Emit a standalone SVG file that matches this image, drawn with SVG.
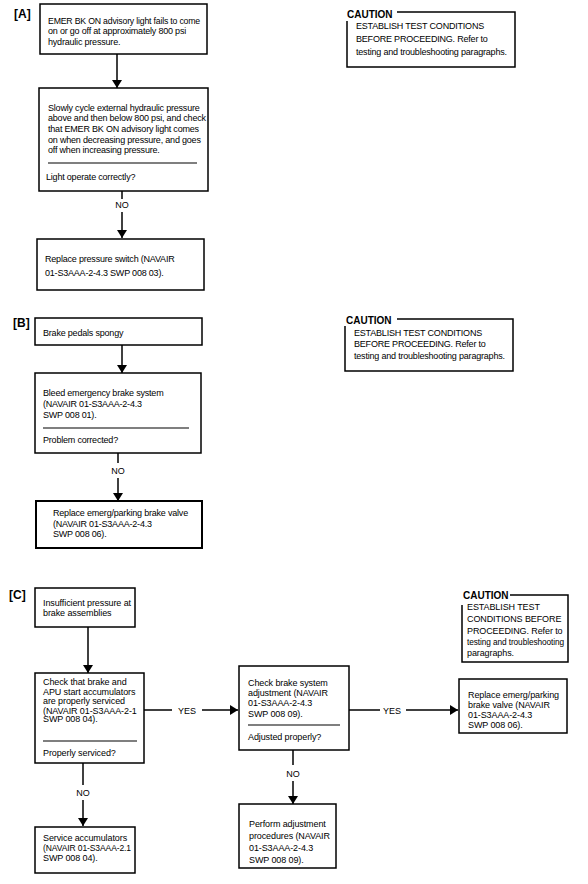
<svg xmlns="http://www.w3.org/2000/svg" width="588" height="884" viewBox="0 0 588 884">
<defs>
<style>
.box{fill:#fff;stroke:#000;stroke-width:1.5}
.sep{stroke:#000;stroke-width:1.2}
.t{font-family:"Liberation Sans",Arial,sans-serif;font-size:9px;fill:#000;letter-spacing:-0.2px}
.tc{font-family:"Liberation Sans",Arial,sans-serif;font-size:9px;fill:#000;letter-spacing:-0.1px}
.lbl{font-family:"Liberation Sans",Arial,sans-serif;font-size:9px;fill:#000;text-anchor:middle}
.sec{font-family:"Liberation Sans",Arial,sans-serif;font-size:12px;font-weight:bold;fill:#000}
.cau{font-family:"Liberation Sans",Arial,sans-serif;font-size:10px;font-weight:bold;fill:#000}
.cb{fill:none;stroke:#000;stroke-width:1.5}
.c{stroke:#000;stroke-width:1.5;fill:none}
</style>
<marker id="ah" markerUnits="userSpaceOnUse" markerWidth="8" markerHeight="10" refX="8" refY="5" orient="auto">
<path d="M0,0 L8,5 L0,10 z" fill="#000"/>
</marker>
</defs>
<rect width="588" height="884" fill="#fff"/>

<text class="sec" x="14" y="18">[A]</text>
<text class="sec" x="13" y="327">[B]</text>
<text class="sec" x="9" y="599">[C]</text>

<g id="A1">
<rect class="box" x="40" y="4" width="167" height="50"/>
<text class="t" x="48" y="24" textLength="152" lengthAdjust="spacingAndGlyphs">EMER BK ON advisory light fails to come</text>
<text class="t" x="48" y="34">on or go off at approximately 800 psi</text>
<text class="t" x="48" y="45">hydraulic pressure.</text>
</g>
<g id="A2">
<rect class="box" x="39" y="88" width="169" height="103"/>
<text class="t" x="48" y="111">Slowly cycle external hydraulic pressure</text>
<text class="t" x="48" y="121">above and then below 800 psi, and check</text>
<text class="t" x="48" y="132">that EMER BK ON  advisory light comes</text>
<text class="t" x="48" y="143">on when decreasing pressure, and goes</text>
<text class="t" x="48" y="153">off when increasing pressure.</text>
<line class="sep" x1="48" y1="163" x2="197" y2="163"/>
<text class="t" x="46" y="180">Light operate correctly?</text>
</g>
<g id="A3">
<rect class="box" x="37" y="239" width="167" height="51"/>
<text class="t" x="45" y="262">Replace pressure switch (NAVAIR</text>
<text class="t" x="45" y="276">01-S3AAA-2-4.3 SWP 008 03).</text>
</g>
<g id="cautionA">
<text class="cau" x="347" y="18">CAUTION</text>
<path class="cb" d="M397,12 H515 V67 H347 V21"/>
<text class="t" x="356" y="29">ESTABLISH TEST CONDITIONS</text>
<text class="t" x="356" y="42">BEFORE PROCEEDING. Refer to</text>
<text class="t" x="356" y="55">testing and troubleshooting paragraphs.</text>
</g>

<g id="B1">
<rect class="box" x="35" y="318" width="167" height="27"/>
<text class="t" x="43" y="336">Brake pedals spongy</text>
</g>
<g id="B2">
<rect class="box" x="35" y="373" width="166" height="80"/>
<text class="t" x="43" y="396">Bleed emergency brake system</text>
<text class="t" x="43" y="407">(NAVAIR 01-S3AAA-2-4.3</text>
<text class="t" x="43" y="418">SWP 008 01).</text>
<line class="sep" x1="43" y1="428" x2="189" y2="428"/>
<text class="t" x="43" y="443">Problem corrected?</text>
</g>
<g id="B3">
<rect class="box" x="36" y="501" width="166" height="47" style="stroke-width:2"/>
<text class="t" x="53" y="516">Replace emerg/parking brake valve</text>
<text class="t" x="53" y="527">(NAVAIR 01-S3AAA-2-4.3</text>
<text class="t" x="53" y="537">SWP 008 06).</text>
</g>
<g id="cautionB">
<text class="cau" x="346" y="324">CAUTION</text>
<path class="cb" d="M397,319 H513 V371 H345 V326"/>
<text class="t" x="354" y="336">ESTABLISH TEST CONDITIONS</text>
<text class="t" x="354" y="347">BEFORE PROCEEDING. Refer to</text>
<text class="t" x="354" y="359">testing and troubleshooting paragraphs.</text>
</g>

<g id="C1">
<rect class="box" x="35" y="588" width="100" height="39"/>
<text class="tc" x="43" y="606">Insufficient pressure at</text>
<text class="tc" x="43" y="616">brake assemblies</text>
</g>
<g id="C2">
<rect class="box" x="35" y="673" width="109" height="90"/>
<text class="tc" x="43" y="685">Check that brake and</text>
<text class="tc" x="43" y="694.5">APU start accumulators</text>
<text class="tc" x="43" y="704">are properly serviced</text>
<text class="tc" x="43" y="713.5">(NAVAIR 01-S3AAA-2-1</text>
<text class="tc" x="43" y="722">SWP 008 04).</text>
<line class="sep" x1="43" y1="741" x2="137" y2="741"/>
<text class="tc" x="43" y="756">Properly serviced?</text>
</g>
<g id="C4">
<rect class="box" x="35" y="827" width="100" height="46"/>
<text class="tc" x="43" y="841">Service accumulators</text>
<text class="tc" x="43" y="851" textLength="88" lengthAdjust="spacingAndGlyphs">(NAVAIR  01-S3AAA-2.1</text>
<text class="tc" x="43" y="861">SWP 008 04).</text>
</g>
<g id="C3">
<rect class="box" x="239" y="666" width="110" height="84"/>
<text class="tc" x="248" y="686">Check brake system</text>
<text class="tc" x="248" y="696">adjustment (NAVAIR</text>
<text class="tc" x="248" y="706">01-S3AAA-2-4.3</text>
<text class="tc" x="248" y="717">SWP 008 09).</text>
<line class="sep" x1="248" y1="725" x2="340" y2="725"/>
<text class="tc" x="248" y="740">Adjusted properly?</text>
</g>
<g id="C6">
<rect class="box" x="239" y="804" width="97" height="64"/>
<text class="tc" x="249" y="827">Perform adjustment</text>
<text class="tc" x="249" y="839">procedures (NAVAIR</text>
<text class="tc" x="249" y="851">01-S3AAA-2-4.3</text>
<text class="tc" x="249" y="863">SWP 008 09).</text>
</g>
<g id="C5">
<rect class="box" x="459" y="679" width="108" height="54"/>
<text class="tc" x="468" y="698">Replace emerg/parking</text>
<text class="tc" x="468" y="708">brake valve (NAVAIR</text>
<text class="tc" x="468" y="718">01-S3AAA-2-4.3</text>
<text class="tc" x="468" y="728">SWP 008 06).</text>
</g>
<g id="cautionC">
<text class="cau" x="463" y="599">CAUTION</text>
<path class="cb" d="M510,595 H568 V662 H462 V605"/>
<text class="tc" x="467" y="610">ESTABLISH TEST</text>
<text class="tc" x="467" y="622">CONDITIONS BEFORE</text>
<text class="tc" x="467" y="634">PROCEEDING. Refer to</text>
<text class="tc" x="467" y="645" textLength="97" lengthAdjust="spacingAndGlyphs">testing and troubleshooting</text>
<text class="tc" x="467" y="656">paragraphs.</text>
</g>

<g id="connectors">
<line class="c" x1="117" y1="54" x2="117" y2="88" marker-end="url(#ah)"/>
<line class="c" x1="122" y1="191" x2="122" y2="199"/>
<text class="lbl" x="122" y="208">NO</text>
<line class="c" x1="122" y1="212" x2="122" y2="238" marker-end="url(#ah)"/>

<line class="c" x1="122" y1="345" x2="122" y2="373" marker-end="url(#ah)"/>
<line class="c" x1="118" y1="453" x2="118" y2="463"/>
<text class="lbl" x="118" y="474">NO</text>
<line class="c" x1="118" y1="478" x2="118" y2="501" marker-end="url(#ah)"/>

<line class="c" x1="88" y1="627" x2="88" y2="673" marker-end="url(#ah)"/>
<line class="c" x1="83" y1="763" x2="83" y2="785"/>
<text class="lbl" x="83" y="796">NO</text>
<line class="c" x1="83" y1="800" x2="83" y2="826" marker-end="url(#ah)"/>
<line class="c" x1="144" y1="710" x2="172" y2="710"/>
<text class="lbl" x="187" y="714">YES</text>
<line class="c" x1="202" y1="710" x2="238" y2="710" marker-end="url(#ah)"/>
<line class="c" x1="293" y1="750" x2="293" y2="765"/>
<text class="lbl" x="293" y="777">NO</text>
<line class="c" x1="293" y1="781" x2="293" y2="804" marker-end="url(#ah)"/>
<line class="c" x1="349" y1="710" x2="380" y2="710"/>
<text class="lbl" x="392" y="714">YES</text>
<line class="c" x1="406" y1="710" x2="458" y2="710" marker-end="url(#ah)"/>
</g>
</svg>
